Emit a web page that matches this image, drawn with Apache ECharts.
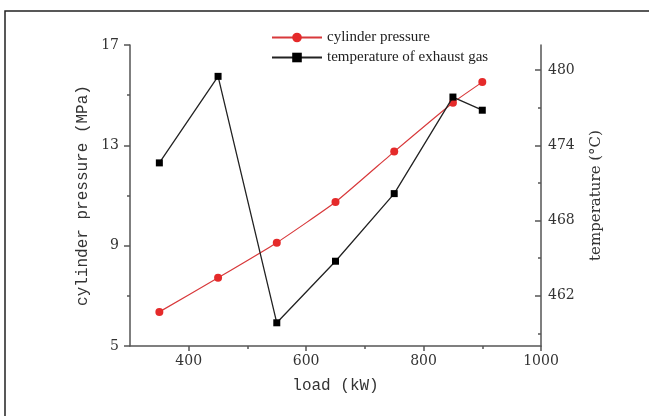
<!DOCTYPE html>
<html>
<head>
<meta charset="utf-8">
<script src="https://cdn.jsdelivr.net/npm/echarts@6/dist/echarts.min.js"></script>
<style>
html,body{margin:0;padding:0;background:#fff;}
#c{width:649px;height:416px;}
</style>
</head>
<body>
<div id="c"></div>
<script>
// Data
var loads = [350, 450, 550, 650, 750, 850, 900];
var cylinderPressure = [6.36, 7.72, 9.12, 10.74, 12.75, 14.7, 15.52];
var exhaustTemp = [472.6, 479.5, 459.85, 464.76, 470.15, 477.85, 476.8];
var xTickLabels = [400, 600, 800, 1000];
var xMinorTicks = [500, 700, 900];
var rightTickLabels = [462, 468, 474, 480];
var rightMinorTicks = [459, 465, 471, 477];

var pressureData = loads.map(function (x, i) { return [x, cylinderPressure[i]]; });
var tempData = loads.map(function (x, i) { return [x, exhaustTemp[i]]; });

var axisColor = '#555';
var labelFont = { fontFamily: 'DejaVu Serif', fontSize: 14, color: '#333' };
var plain = function (v) { return String(v); };

var chart = echarts.init(document.getElementById('c'), null, { renderer: 'canvas' });
chart.setOption({
  backgroundColor: '#fff',
  animation: false,
  graphic: [{
    type: 'rect',
    shape: { x: 5, y: 11, width: 700, height: 500 },
    style: { fill: 'none', stroke: '#222', lineWidth: 1.5 },
    silent: true
  }],
  legend: {
    orient: 'vertical',
    left: 266,
    top: 25,
    itemWidth: 50,
    itemHeight: 12,
    itemGap: 5,
    textStyle: { fontFamily: 'Liberation Serif', fontSize: 15, color: '#222' },
    data: ['cylinder pressure', 'temperature of exhaust gas']
  },
  grid: { left: 130, right: 108, top: 45, bottom: 70 },
  xAxis: [{
    type: 'value',
    min: 300, max: 1000,
    name: 'load (kW)',
    nameLocation: 'middle',
    nameGap: 32,
    nameTextStyle: { fontFamily: 'Liberation Mono', fontSize: 16, color: '#333' },
    axisLine: { show: true, onZero: false, lineStyle: { color: axisColor, width: 1.5 } },
    axisTick: { show: true, length: 5, customValues: xTickLabels, lineStyle: { color: axisColor, width: 1.5 } },
    axisLabel: Object.assign({ margin: 8, customValues: xTickLabels, formatter: plain }, labelFont),
    splitLine: { show: false }
  }, {
    type: 'value',
    min: 300, max: 1000,
    position: 'bottom',
    axisLine: { show: false },
    axisTick: { show: true, length: 3, customValues: xMinorTicks, lineStyle: { color: axisColor, width: 1.5 } },
    axisLabel: { show: false },
    splitLine: { show: false }
  }],
  yAxis: [{
    type: 'value',
    min: 5, max: 17, interval: 4,
    position: 'left',
    name: 'cylinder pressure (MPa)',
    nameLocation: 'middle',
    nameGap: 38,
    nameTextStyle: { fontFamily: 'Liberation Mono', fontSize: 16, color: '#333' },
    axisLine: { show: true, onZero: false, lineStyle: { color: axisColor, width: 1.5 } },
    axisTick: { show: true, length: 6, lineStyle: { color: axisColor, width: 1.5 } },
    minorTick: { show: true, splitNumber: 2, length: 3, lineStyle: { color: axisColor, width: 1.5 } },
    axisLabel: Object.assign({ margin: 11, formatter: plain }, labelFont),
    splitLine: { show: false }
  }, {
    type: 'value',
    min: 458, max: 482,
    position: 'right',
    name: 'temperature (°C)',
    nameLocation: 'middle',
    nameGap: 48,
    nameRotate: 90,
    nameTextStyle: { fontFamily: 'DejaVu Serif', fontSize: 15, color: '#333' },
    axisLine: { show: true, onZero: false, lineStyle: { color: axisColor, width: 1.5 } },
    axisTick: { show: true, inside: true, length: 6, customValues: rightTickLabels, lineStyle: { color: axisColor, width: 1.5 } },
    axisLabel: Object.assign({ margin: 7, customValues: rightTickLabels, formatter: plain }, labelFont),
    splitLine: { show: false }
  }, {
    type: 'value',
    min: 458, max: 482,
    position: 'right',
    axisLine: { show: false },
    axisTick: { show: true, inside: true, length: 3, customValues: rightMinorTicks, lineStyle: { color: axisColor, width: 1.5 } },
    axisLabel: { show: false },
    splitLine: { show: false }
  }],
  series: [{
    name: 'cylinder pressure',
    type: 'line',
    xAxisIndex: 0,
    yAxisIndex: 0,
    data: pressureData,
    smooth: 0.15,
    symbol: 'circle',
    symbolSize: 8,
    lineStyle: { color: '#d8393b', width: 1.2 },
    itemStyle: { color: '#e52a2a' },
    z: 3
  }, {
    name: 'temperature of exhaust gas',
    type: 'line',
    xAxisIndex: 0,
    yAxisIndex: 1,
    data: tempData,
    symbol: 'rect',
    symbolSize: 7,
    lineStyle: { color: '#222', width: 1.3 },
    itemStyle: { color: '#000' },
    z: 4
  }]
});
</script>
</body>
</html>
